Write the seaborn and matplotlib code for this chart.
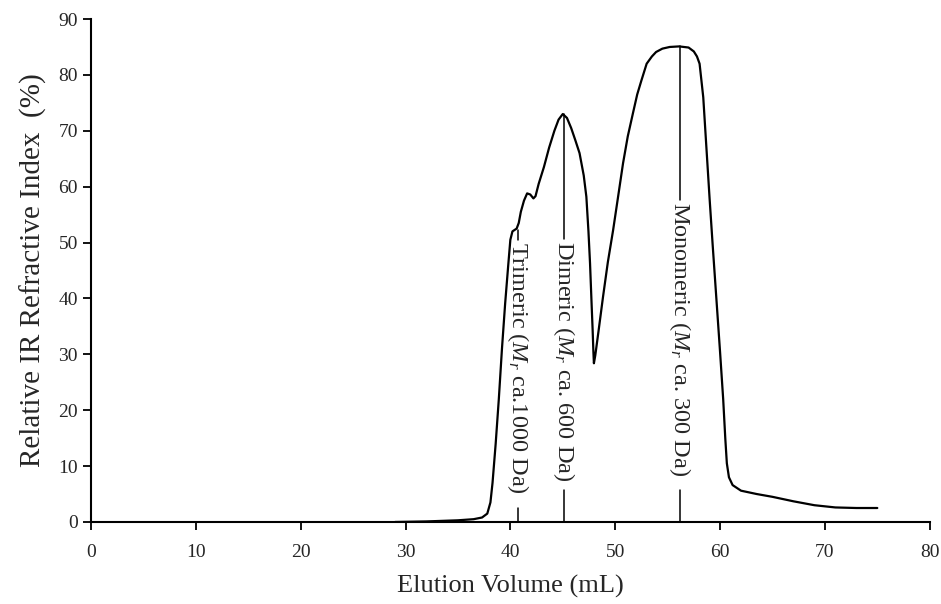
import matplotlib
matplotlib.use("Agg")
import matplotlib.pyplot as plt
import seaborn as sns
import pandas as pd

# Данные хроматограммы
elution_ml = [29.0, 32.0, 35.0, 36.5, 37.3, 37.8, 38.1, 38.3, 38.6, 38.9,
              39.2, 39.5, 39.8, 40.0, 40.2, 40.6, 40.8, 41.0, 41.3, 41.6,
              41.9, 42.2, 42.4, 42.7, 43.2, 43.7, 44.2, 44.6, 45.0, 45.4,
              45.8, 46.2, 46.6, 47.0, 47.25, 47.45, 47.6, 47.75, 47.85, 47.92,
              47.97, 48.1, 48.4, 48.84, 49.3, 49.8, 50.3, 50.75, 51.2, 51.7,
              52.1, 52.5, 53.0, 53.5, 53.9, 54.5, 55.2, 56.1, 57.0, 57.5,
              57.8, 58.05, 58.4, 58.7, 59.0, 59.3, 59.65, 60.0, 60.3, 60.5,
              60.65, 60.85, 61.2, 62.0, 63.5, 65.0, 67.0, 69.0, 71.0, 73.0,
              75.0]
ri_percent = [0.0, 0.1, 0.3, 0.5, 0.8, 1.5, 3.5, 7.0, 14.0, 22.0,
              31.0, 39.0, 46.0, 50.5, 52.0, 52.5, 53.5, 55.5, 57.5, 58.8,
              58.6, 57.9, 58.3, 60.5, 63.5, 67.0, 70.0, 72.0, 73.0, 72.3,
              70.5, 68.3, 66.0, 62.0, 58.2, 52.0, 46.3, 39.0, 34.3, 30.5,
              28.4, 29.8, 34.0, 40.3, 46.5, 52.2, 58.5, 64.2, 69.0, 73.2,
              76.5, 79.0, 82.0, 83.3, 84.1, 84.7, 85.0, 85.1, 84.9, 84.2,
              83.3, 82.0, 76.0, 67.0, 58.0, 49.5, 40.0, 30.5, 22.0, 15.0,
              10.5, 8.0, 6.6, 5.6, 5.0, 4.5, 3.7, 3.0, 2.6, 2.5,
              2.5]

# Подписи пиков
peak_labels = ["Trimeric ($M_r$ ca.1000 Da)",
               "Dimeric ($M_r$ ca. 600 Da)",
               "Monomeric ($M_r$ ca. 300 Da)"]
peak_x = [40.7, 45.1, 56.2]
peak_top = [52.3, 73.0, 85.1]
label_top = [50.4, 50.6, 57.6]
label_bottom = [2.5, 5.7, 5.7]

df = pd.DataFrame({"Elution": elution_ml, "RI": ri_percent})

sns.set_style("ticks")
plt.rcParams["font.family"] = ["Liberation Serif", "DejaVu Serif"]
plt.rcParams["mathtext.fontset"] = "custom"
plt.rcParams["mathtext.rm"] = "Liberation Serif"
plt.rcParams["mathtext.it"] = "Liberation Serif:italic"

fig = plt.figure(figsize=(9.41, 6.04), dpi=100)
ax = fig.add_axes([0.0967, 0.1358, 0.8913, 0.8327])

sns.lineplot(data=df, x="Elution", y="RI", color="black", linewidth=1.6, ax=ax)

# Вертикальные линии с подписями
for lab, x, top, lt, lb in zip(peak_labels, peak_x, peak_top, label_top, label_bottom):
    ax.plot([x, x], [0, lb], color="black", linewidth=1.1)
    ax.plot([x, x], [lt, top], color="black", linewidth=1.1)
    ax.text(x, lt - 0.3, lab, rotation=270, ha="center", va="top", fontsize=17.5)

ax.set_xlim(0, 80)
ax.set_ylim(0, 90)
ax.set_xticks(range(0, 81, 10))
ax.set_yticks(range(0, 91, 10))
ax.tick_params(axis="both", labelsize=14, length=6, width=1.3, color="black", direction="out")
ax.tick_params(axis="x", pad=10)
ax.set_xlabel("Elution Volume (mL)", fontsize=19, labelpad=10)
ax.set_ylabel("Relative IR Refractive Index  (%)", fontsize=21, labelpad=8)
for side in ["left", "bottom"]:
    ax.spines[side].set_linewidth(1.5)
    ax.spines[side].set_color("black")
sns.despine(ax=ax)

fig.savefig("out.png", dpi=100)
